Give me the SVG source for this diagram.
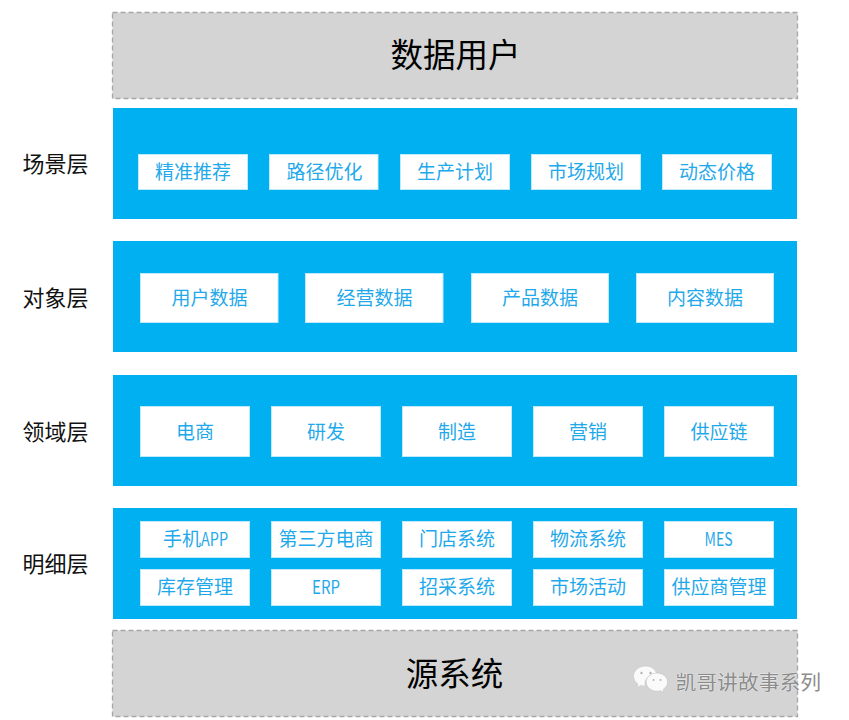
<svg xmlns="http://www.w3.org/2000/svg" width="849" height="720" viewBox="0 0 849 720">
<style>
text{font-family:"Noto Sans CJK SC","Liberation Sans",sans-serif;text-anchor:middle}
.grey{fill:#d4d4d4;stroke:#a6a6a6;stroke-width:1.3;stroke-dasharray:5 3}
.band{fill:#00b0f0}
.cell{fill:#fff;stroke:#bfeafb;stroke-width:1}
.t{font-size:19px;fill:#1fa9ea}
.m{font-family:"Noto Sans CJK SC",sans-serif;font-size:18px}
.side{font-size:22px;fill:#111}
.title{font-size:32.500px;fill:#000}
.wm{font-size:20.8px;fill:#8c8c8c;stroke:#fff;stroke-width:.5;paint-order:stroke;text-anchor:start}
.ic{fill:#fafafa;stroke:#c4c4c4;stroke-width:.6}
</style>
<g id="top"><rect class="grey" x="112.500" y="12.500" width="685" height="86"/><text class="title" x="455.500" y="67">数据用户</text></g>

<g id="scene">
<rect class="band" x="113" y="108" width="684" height="111"/>
<text class="side" x="55.500" y="172">场景层</text>
<rect class="cell" x="138.500" y="154.500" width="109" height="35"/><text class="t" x="193" y="179">精准推荐</text>
<rect class="cell" x="269.500" y="154.500" width="108.500" height="35"/><text class="t" x="324.500" y="179">路径优化</text>
<rect class="cell" x="400.500" y="154.500" width="109" height="35"/><text class="t" x="455" y="179">生产计划</text>
<rect class="cell" x="531.500" y="154.500" width="109" height="35"/><text class="t" x="586" y="179">市场规划</text>
<rect class="cell" x="662.500" y="154.500" width="109" height="35"/><text class="t" x="717" y="179">动态价格</text>
</g>

<g id="object">
<rect class="band" x="113" y="241" width="684" height="111"/>
<text class="side" x="55.500" y="306">对象层</text>
<rect class="cell" x="140.500" y="273.500" width="137.500" height="49"/><text class="t" x="209.500" y="305">用户数据</text>
<rect class="cell" x="305.500" y="273.500" width="137.500" height="49"/><text class="t" x="374.500" y="305">经营数据</text>
<rect class="cell" x="471.500" y="273.500" width="137" height="49"/><text class="t" x="540" y="305">产品数据</text>
<rect class="cell" x="636.500" y="273.500" width="137" height="49"/><text class="t" x="705" y="305">内容数据</text>
</g>

<g id="domain">
<rect class="band" x="113" y="375" width="684" height="111"/>
<text class="side" x="55.500" y="440">领域层</text>
<rect class="cell" x="140.500" y="406.500" width="109" height="50"/><text class="t" x="195" y="439">电商</text>
<rect class="cell" x="271.500" y="406.500" width="109" height="50"/><text class="t" x="326" y="439">研发</text>
<rect class="cell" x="402.500" y="406.500" width="109" height="50"/><text class="t" x="457" y="439">制造</text>
<rect class="cell" x="533.500" y="406.500" width="109" height="50"/><text class="t" x="588" y="439">营销</text>
<rect class="cell" x="664.500" y="406.500" width="109" height="50"/><text class="t" x="719" y="439">供应链</text>
</g>

<g id="detail">
<rect class="band" x="113" y="508" width="684" height="111"/>
<text class="side" x="55.500" y="572">明细层</text>
<rect class="cell" x="140.500" y="521.500" width="109" height="36"/><text class="t" x="195.500" y="546">手机<tspan class="m" textLength="27" lengthAdjust="spacingAndGlyphs">APP</tspan></text>
<rect class="cell" x="271.500" y="521.500" width="109" height="36"/><text class="t" x="326" y="546">第三方电商</text>
<rect class="cell" x="402.500" y="521.500" width="109" height="36"/><text class="t" x="457" y="546">门店系统</text>
<rect class="cell" x="533.500" y="521.500" width="109" height="36"/><text class="t" x="588" y="546">物流系统</text>
<rect class="cell" x="664.500" y="521.500" width="109" height="36"/><text class="t m" x="718.500" y="546" textLength="28" lengthAdjust="spacingAndGlyphs">MES</text>
<rect class="cell" x="140.500" y="569.500" width="109" height="36"/><text class="t" x="195" y="594">库存管理</text>
<rect class="cell" x="271.500" y="569.500" width="109" height="36"/><text class="t m" x="326" y="594" textLength="28" lengthAdjust="spacingAndGlyphs">ERP</text>
<rect class="cell" x="402.500" y="569.500" width="109" height="36"/><text class="t" x="457" y="594">招采系统</text>
<rect class="cell" x="533.500" y="569.500" width="109" height="36"/><text class="t" x="588" y="594">市场活动</text>
<rect class="cell" x="664.500" y="569.500" width="109" height="36"/><text class="t" x="719" y="594">供应商管理</text>
</g>

<g id="source"><rect class="grey" x="112.500" y="630.500" width="685" height="86"/><text class="title" x="454.500" y="686">源系统</text></g>

<g id="watermark">
<path class="ic" d="M646 666c-7.500 0-12.500 4.700-12.500 10.300 0 3.200 1.700 5.900 4.400 7.800l-1.100 3.400 4-2c1.500.4 3 .7 4.600.7-.2-.8-.4-1.600-.4-2.500 0-5.300 5-9.500 11-9.500h1C655.800 669.500 651.300 666 646 666z"/>
<path class="ic" d="M657 673c-6 0-10.800 4-10.800 9.100s4.800 9.100 10.800 9.100c1.300 0 2.500-.2 3.700-.5l3.300 1.800-.9-3c2.700-1.800 4.500-4.400 4.500-7.400 0-5.100-4.800-9.100-10.600-9.100z"/>
<circle cx="641.500" cy="673" r="1.200" fill="#b5b5b5"/><circle cx="650.500" cy="673" r="1.200" fill="#b5b5b5"/>
<circle cx="653.500" cy="680" r="1" fill="#b5b5b5"/><circle cx="660.500" cy="680" r="1" fill="#b5b5b5"/>
<text class="wm" x="675.500" y="690">凯哥讲故事系列</text>
</g>
</svg>
